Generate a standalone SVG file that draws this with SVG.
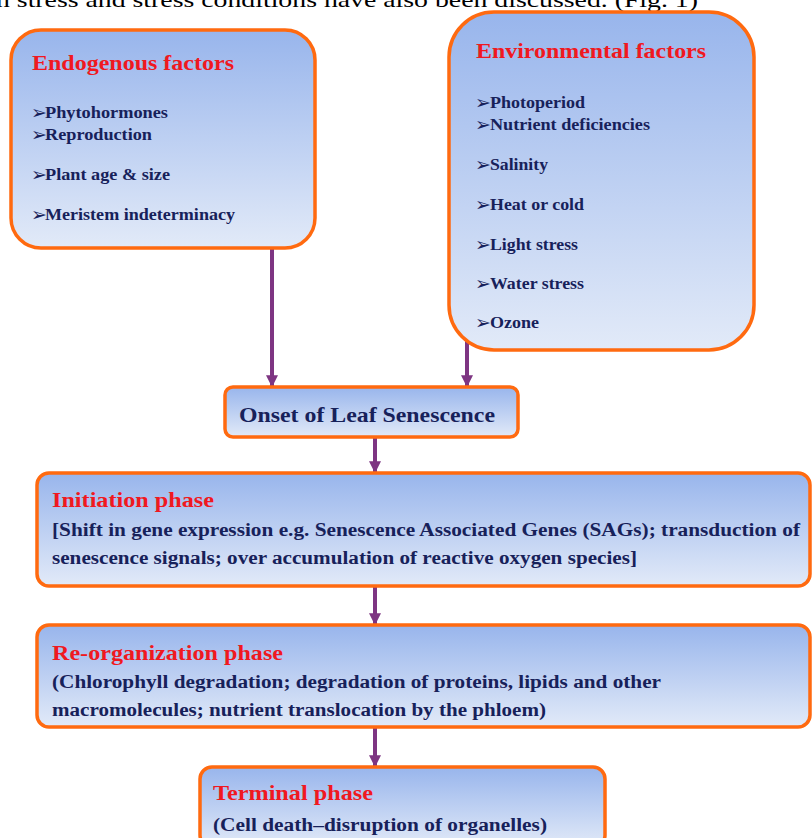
<svg xmlns="http://www.w3.org/2000/svg" width="812" height="838" viewBox="0 0 812 838">
<defs>
<linearGradient id="g" x1="0" y1="0" x2="0" y2="1">
<stop offset="0" stop-color="#98B5EC"/>
<stop offset="1" stop-color="#E2EAF8"/>
</linearGradient>
<marker id="ah" viewBox="0 0 10 10" refX="9" refY="5" markerWidth="3" markerHeight="3" orient="auto" markerUnits="strokeWidth">
<path d="M0,0 L10,5 L0,10 z" fill="#7E3582"/>
</marker>
<style>
.box{fill:url(#g);stroke:#FF6A10;stroke-width:3.5}
.ttl{font-family:"Liberation Serif",serif;font-weight:bold;fill:#F01820}
.txt{font-family:"Liberation Serif",serif;font-weight:bold;fill:#17215A}
.bul{font-family:"DejaVu Sans",sans-serif;font-size:19px;fill:#17215A}
.it{font-size:16px}
.ph{font-size:18px}
.con{stroke:#7E3582;stroke-width:4;fill:none;marker-end:url(#ah)}
.hdr{font-family:"Liberation Serif",serif;font-size:22px;fill:#000}
</style>
</defs>
<rect width="812" height="838" fill="#fff"/>
<text class="hdr" x="-4" y="7" textLength="702" lengthAdjust="spacingAndGlyphs">n stress and stress conditions have also been discussed. (Fig. 1)</text>
<g id="connectors">
<line class="con" x1="272" y1="247" x2="272" y2="386"/>
<line class="con" x1="467" y1="341" x2="467" y2="386"/>
<line class="con" x1="375" y1="437" x2="375" y2="472"/>
<line class="con" x1="375" y1="586" x2="375" y2="624"/>
<line class="con" x1="375" y1="727" x2="375" y2="766"/>
</g>
<g id="endogenous">
<rect class="box" x="11" y="30" width="304" height="218" rx="30"/>
<text class="ttl" x="32" y="70" font-size="21" textLength="202" lengthAdjust="spacingAndGlyphs">Endogenous factors</text>
<text class="bul" x="31" y="119">➢</text><text class="txt it" x="45" y="118" textLength="123" lengthAdjust="spacingAndGlyphs">Phytohormones</text>
<text class="bul" x="31" y="141">➢</text><text class="txt it" x="45" y="140" textLength="107" lengthAdjust="spacingAndGlyphs">Reproduction</text>
<text class="bul" x="31" y="181">➢</text><text class="txt it" x="45" y="180" textLength="125" lengthAdjust="spacingAndGlyphs">Plant age &amp; size</text>
<text class="bul" x="31" y="221">➢</text><text class="txt it" x="45" y="220" textLength="190" lengthAdjust="spacingAndGlyphs">Meristem indeterminacy</text>
</g>
<g id="environmental">
<rect class="box" x="449" y="12" width="305" height="338" rx="45"/>
<text class="ttl" x="476" y="58" font-size="21" textLength="230" lengthAdjust="spacingAndGlyphs">Environmental factors</text>
<text class="bul" x="475" y="109">➢</text><text class="txt it" x="490" y="108" textLength="95" lengthAdjust="spacingAndGlyphs">Photoperiod</text>
<text class="bul" x="475" y="131">➢</text><text class="txt it" x="490" y="130" textLength="160" lengthAdjust="spacingAndGlyphs">Nutrient deficiencies</text>
<text class="bul" x="475" y="171">➢</text><text class="txt it" x="490" y="170" textLength="58" lengthAdjust="spacingAndGlyphs">Salinity</text>
<text class="bul" x="475" y="211">➢</text><text class="txt it" x="490" y="210" textLength="94" lengthAdjust="spacingAndGlyphs">Heat or cold</text>
<text class="bul" x="475" y="251">➢</text><text class="txt it" x="490" y="250" textLength="88" lengthAdjust="spacingAndGlyphs">Light stress</text>
<text class="bul" x="475" y="290">➢</text><text class="txt it" x="490" y="289" textLength="94" lengthAdjust="spacingAndGlyphs">Water stress</text>
<text class="bul" x="475" y="329">➢</text><text class="txt it" x="490" y="328" textLength="49" lengthAdjust="spacingAndGlyphs">Ozone</text>
</g>
<g id="onset">
<rect class="box" x="225" y="387" width="293" height="50" rx="8"/>
<text class="txt" x="239" y="422" font-size="21" textLength="256" lengthAdjust="spacingAndGlyphs">Onset of Leaf Senescence</text>
</g>
<g id="initiation">
<rect class="box" x="37" y="473" width="773" height="113" rx="12"/>
<text class="ttl" x="52" y="507" font-size="21" textLength="162" lengthAdjust="spacingAndGlyphs">Initiation phase</text>
<text class="txt ph" x="52" y="536" textLength="748" lengthAdjust="spacingAndGlyphs">[Shift in gene expression e.g. Senescence Associated Genes (SAGs); transduction of</text>
<text class="txt ph" x="52" y="564" textLength="585" lengthAdjust="spacingAndGlyphs">senescence signals; over accumulation of reactive oxygen species]</text>
</g>
<g id="reorganization">
<rect class="box" x="37" y="625" width="773" height="102" rx="12"/>
<text class="ttl" x="52" y="660" font-size="21" textLength="231" lengthAdjust="spacingAndGlyphs">Re-organization phase</text>
<text class="txt ph" x="52" y="688" textLength="609" lengthAdjust="spacingAndGlyphs">(Chlorophyll degradation; degradation of proteins, lipids and other</text>
<text class="txt ph" x="52" y="716" textLength="494" lengthAdjust="spacingAndGlyphs">macromolecules; nutrient translocation by the phloem)</text>
</g>
<g id="terminal">
<rect class="box" x="200" y="767" width="405" height="80" rx="12"/>
<text class="ttl" x="213" y="800" font-size="21" textLength="160" lengthAdjust="spacingAndGlyphs">Terminal phase</text>
<text class="txt ph" x="213" y="831" textLength="334" lengthAdjust="spacingAndGlyphs">(Cell death–disruption of organelles)</text>
</g>
</svg>
